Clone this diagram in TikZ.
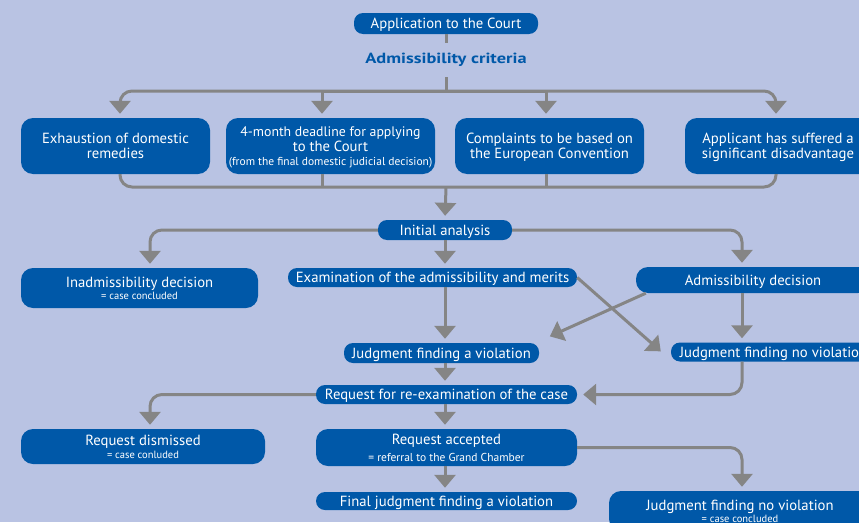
\documentclass[tikz,border=0pt]{standalone}
\usepackage{fontspec}
\usepackage{graphicx}
\setmainfont{PT Sans}
\usetikzlibrary{arrows.meta,calc}
\definecolor{bg}{HTML}{B9C3E3}
\definecolor{boxblue}{HTML}{0058A8}
\definecolor{arrgrey}{HTML}{858585}
\newcommand{\subtxt}[1]{{\fontsize{10.5}{10}\selectfont #1}}
\newcommand{\subbig}[1]{{\fontsize{11.5}{10}\selectfont #1}}
\begin{document}
\begin{tikzpicture}[x=1pt,y=-1pt,
  pill/.style={fill=boxblue, text=white, rounded corners=9pt, inner sep=0pt,
    font=\fontsize{14.7}{15}\selectfont, align=center, text depth=0pt},
  bigbox/.style={pill, rounded corners=12pt},
  line/.style={draw=arrgrey, line width=3pt},
  arr/.style={line, -{Triangle[width=21pt,length=13pt]}, shorten >=4pt}]
\useasboundingbox (0,0) rectangle (859,522);
\clip (0,0) rectangle (859,522);
\fill[bg] (0,0) rectangle (859,522);

% nodes
\node[pill, minimum width=184, minimum height=21] (app) at (446,23.5) {Application to the Court};
\node[font=\bfseries\fontsize{14.7}{15}\selectfont, text=boxblue, minimum height=34, inner sep=0pt] (crit) at (446,60) {\scalebox{1.25}[1]{Admissibility criteria}};
\node[bigbox, minimum width=189, minimum height=56] (b1) at (115.5,146) {Exhaustion of domestic\\remedies};
\node[bigbox, minimum width=209, minimum height=56] (b2) at (330.5,146) {{\fontsize{13.8}{15}\selectfont 4-month deadline for applying}\\to the Court\\[-1pt]\subbig{(from the final domestic judicial decision)}};
\node[bigbox, minimum width=189, minimum height=56] (b3) at (549.5,146) {Complaints to be based on\\the European Convention};
\node[bigbox, minimum width=186, minimum height=56] (b4) at (778,146) {Applicant has suffered a\\significant disadvantage};

\node[pill, minimum width=134, minimum height=20] (ia) at (445,230) {Initial analysis};
\node[bigbox, minimum width=237, minimum height=40] (inad) at (139.5,288) {Inadmissibility decision\\[-3pt]\subtxt{= case concluded}};
\node[pill, minimum width=289, minimum height=19] (exam) at (432.5,277.5) {Examination of the admissibility and merits};
\node[bigbox, minimum width=234, minimum height=26] (admd) at (753,280) {Admissibility decision};
\node[pill, minimum width=195, minimum height=20] (jv) at (441.5,353) {Judgment finding a violation};
\node[pill, minimum width=205, minimum height=19] (jnv) at (773.5,352) {Judgment finding no violation};
\node[pill, minimum width=261, minimum height=19] (req) at (446.5,394.5) {Request for re-examination of the case};
\node[bigbox, minimum width=244, minimum height=35] (rd) at (143,446.5) {Request dismissed\\[-2pt]\subtxt{= case conluded}};
\node[bigbox, minimum width=261, minimum height=37] (ra) at (446.5,447.5) {Request accepted\\[2pt]\subbig{= referral to the Grand Chamber}};
\node[pill, minimum width=261, minimum height=18] (fj) at (446.5,501) {Final judgment finding a violation};
\node[bigbox, minimum width=262, minimum height=40] (fjnv) at (740,511) {Judgment finding no violation\\[-3pt]\subtxt{= case concluded}};

% connectors
\coordinate (hub) at (446,91);
\coordinate (J) at (446,187);
\draw[line] (app) -- (crit);
\draw[line] (crit) -- (hub);
\draw[arr, rounded corners=12pt] (hub) -| ([xshift=4.5pt]b1.north);
\draw[arr] (hub) -| ([xshift=-8.5pt]b2.north);
\draw[arr] (hub) -| ([xshift=-3.5pt]b3.north);
\draw[arr, rounded corners=12pt] (hub) -| ([xshift=-2pt]b4.north);

\draw[line, rounded corners=12pt] ([xshift=4.5pt]b1.south) |- (J) -| ([xshift=-2pt]b4.south);
\draw[line] ([xshift=-8.5pt]b2.south) -- ([xshift=-8.5pt]b2.south |- J);
\draw[line] ([xshift=-3.5pt]b3.south) -- ([xshift=-3.5pt]b3.south |- J);
\draw[arr] (J) -- (ia.north);

\draw[arr, rounded corners=12pt] (ia.west) -| ([xshift=10.5pt]inad.north);
\draw[arr, rounded corners=12pt] (ia.east) -| ([xshift=-11pt]admd.north);
\draw[arr] (ia.south) -- (ia.south |- exam.north);
\draw[arr] (ia.south |- exam.south) -- (ia.south |- jv.north);
\draw[arr] (exam.east) -- ([xshift=-7pt,yshift=-2pt]jnv.west);
\draw[arr] ([xshift=10pt]admd.south west) -- ([xshift=7pt,yshift=15pt]jv.east);
\draw[arr] ([xshift=-11pt]admd.south) -- ([xshift=-11pt]admd.south |- jnv.north);
\draw[arr] (ia.south |- jv.south) -- (ia.south |- req.north);
\draw[arr, rounded corners=12pt, shorten >=6pt] ([xshift=-31.5pt]jnv.south) |- (req.east);
\draw[arr, rounded corners=12pt] (req.west) -| ([xshift=7pt]rd.north);
\draw[arr] (ia.south |- req.south) -- (ia.south |- ra.north);
\draw[arr, rounded corners=12pt] (ra.east) -| ([xshift=2pt]fjnv.north);
\draw[arr] (ia.south |- ra.south) -- (ia.south |- fj.north);
\end{tikzpicture}
\end{document}
